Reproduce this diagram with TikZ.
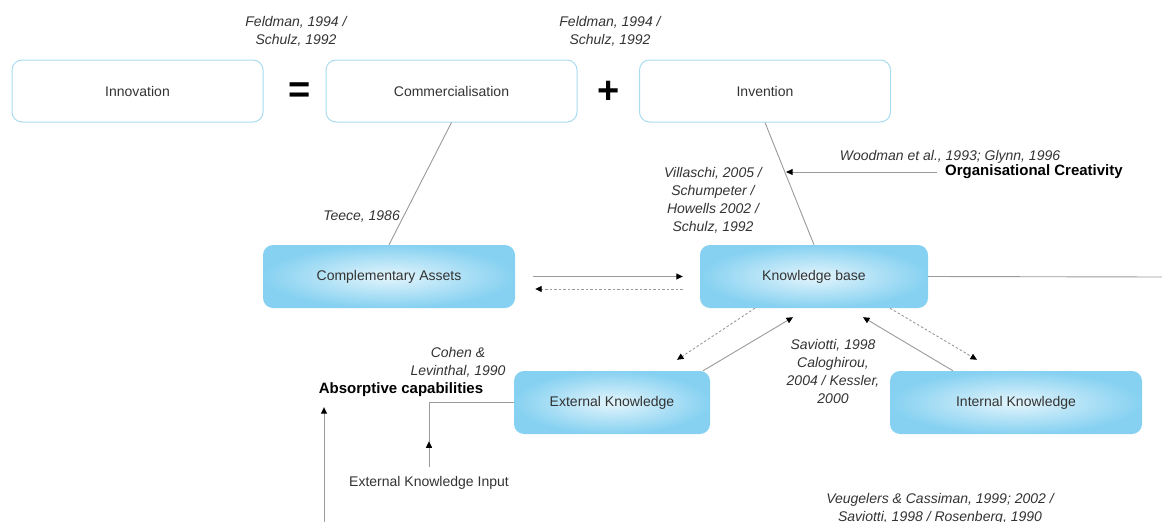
\documentclass[tikz,border=0pt]{standalone}
\usepackage{fontspec}
\setmainfont{Liberation Sans}
\usetikzlibrary{arrows.meta,calc}
\definecolor{boxline}{HTML}{A9DCF0}
\definecolor{skyout}{HTML}{86D1F1}
\definecolor{skyin}{HTML}{E4F5FC}
\definecolor{linegray}{HTML}{9A9A9A}
\definecolor{txt}{HTML}{333333}
\begin{document}
\begin{tikzpicture}[x=1pt,y=-1pt,
  font=\fontsize{14}{18}\selectfont,
  plainbox/.style={draw=boxline, line width=1pt, fill=white, rounded corners=10pt,
    minimum width=251pt, minimum height=62pt, text=txt},
  bluebox/.style={rounded corners=10pt, inner color=skyin, outer color=skyout,
    minimum height=63pt, text=txt},
  cite/.style={font=\fontsize{14}{18}\selectfont\itshape, text=txt, align=center, inner sep=0pt},
  boldlabel/.style={font=\fontsize{15}{18}\selectfont\bfseries, text=black, inner sep=0pt},
  plainlabel/.style={text=txt, inner sep=0pt},
  opsign/.style={font=\fontsize{38}{40}\selectfont\bfseries, text=black, inner sep=0pt},
  conn/.style={draw=linegray, line width=0.9pt},
  arr/.style={conn, -{Triangle[length=6.5pt,width=6pt,color=black]}},
  darr/.style={arr, dash pattern=on 2.5pt off 2pt},
]
\useasboundingbox (0,0) rectangle (1162,522);

% top row: Innovation = Commercialisation + Invention
\node[plainbox] (inno) at (137.5,91) {Innovation};
\node[plainbox] (comm) at (451.5,91) {Commercialisation};
\node[plainbox] (inv)  at (765,91)   {Invention};
\node[opsign] (eq)   at (300,93) {=};
\node[opsign] (plus) at (609,92) {+};
\node[cite] (feld1) at (296,31) {Feldman, 1994 /\\Schulz, 1992};
\node[cite] (feld2) at (610,31) {Feldman, 1994 /\\Schulz, 1992};

% middle row
\node[bluebox, minimum width=252pt] (ca) at (389,276.5) {Complementary Assets};
\node[bluebox, minimum width=228pt] (kb) at (814,276.5) {Knowledge base};

% bottom row
\node[bluebox, minimum width=196pt] (ek) at (612,402.5) {External Knowledge};
\node[bluebox, minimum width=252pt] (ik) at (1016,402.5) {Internal Knowledge};

% citations and labels
\node[cite, anchor=east] (teece) at (400,217) {Teece, 1986};
\node[cite] (villa) at (713,200) {Villaschi, 2005 /\\Schumpeter /\\Howells 2002 /\\Schulz, 1992};
\node[cite] (wood) at (950,157) {Woodman et al., 1993; Glynn, 1996};
\node[boldlabel, anchor=west] (org) at (945,172) {Organisational Creativity};
\node[cite] (cohen) at (458,362) {Cohen \&\\Levinthal, 1990};
\node[boldlabel] (abs) at (401,390) {Absorptive capabilities};
\node[cite] (savi) at (833,371) {Saviotti, 1998\\Caloghirou,\\2004 / Kessler,\\2000};
\node[plainlabel] (eki) at (429,483) {External Knowledge Input};
\node[cite] (veug) at (940,509) {Veugelers \& Cassiman, 1999; 2002 /\\Saviotti, 1998 / Rosenberg, 1990};

% free ends at the picture's edges
\coordinate (rimR) at (1162,277);
\coordinate (rimB) at (324,522);

% connectors
\draw[conn] (comm.south) -- (ca.north);
\draw[conn] (inv.south) -- coordinate[pos=0.4] (crhit) (kb.north);
\draw[arr] ($(org.west)+(-8,0)$) -- ($(org.west -| crhit)+(1.5,0)$);

\draw[arr]  ($(ca.east)+(18,0)$) -- ($(kb.west)+(-17,0)$);
\draw[darr] ($(kb.west)+(-17,12.5)$) -- ($(ca.east)+(20,12.5)$);

\draw[darr] ($(kb.south)+(-59,0)$) -- ($(ek.north)+(65,-11)$);
\draw[arr]  ($(ek.north)+(91,0)$) -- ($(kb.south)+(-21,9)$);
\draw[arr]  ($(ik.north)+(-63,0)$) -- ($(kb.south)+(49,9)$);
\draw[darr] ($(kb.south)+(76,0)$) -- ($(ik.north)+(-39,-11)$);

\draw[conn] (kb.east) -- (rimR);

\draw[conn] (ek.west) -| ($(eki.north)+(0,-9)$);
\draw[arr]  ($(eki.north)+(0,-9)$) -- ++(0,-26);
\draw[arr]  (rimB) -- ($(rimB |- abs.south)+(0,10)$);
\end{tikzpicture}
\end{document}
